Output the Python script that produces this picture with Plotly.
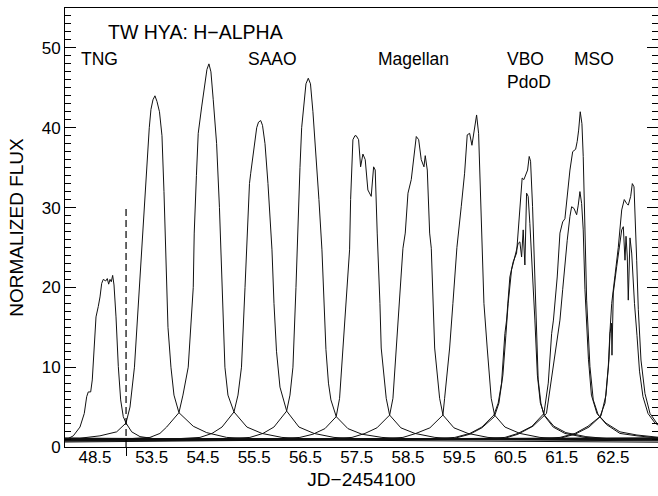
import plotly.graph_objects as go

# ---------------- data ----------------
tick_labels = ["48.5", "53.5", "54.5", "55.5", "56.5", "57.5", "58.5", "59.5", "60.5", "61.5", "62.5"]
# position of each night on the (compressed) plotted axis
tick_pos = [52.394, 53.5, 54.5, 55.5, 56.5, 57.5, 58.5, 59.5, 60.5, 61.5, 62.5]

break_x = 53.0        # dashed separator between TNG night and the rest
break_top = 30.0

# Each spectrum: offset (days) from its night position, and normalized flux
tng_dx = [-0.70, -0.552, -0.423, -0.293, -0.209, -0.162, -0.131, -0.084, -0.053, -0.020, 0.020, 0.064, 0.098,
          0.131, 0.162, 0.209, 0.240, 0.267, 0.293, 0.318, 0.345, 0.371, 0.410, 0.455, 0.501, 0.552, 0.605,
          0.716, 0.878, 1.203, 11.0]
tng_flux = [0.7, 0.96, 1.4, 2.5, 4.2, 6.3, 6.9, 6.9, 8.4, 12.2, 16.3, 17.6, 18.8, 20.5, 21.0, 20.8, 21.1, 20.4,
            21.0, 20.7, 21.5, 20.3, 16.3, 10.1, 5.9, 3.8, 3.0, 1.9, 1.3, 1.0, 0.6]

n535_dx = [-11, -1.399, -1.009, -0.683, -0.501, -0.423, -0.336, -0.238, -0.189, -0.140, -0.082, -0.047, -0.014,
           0.025, 0.064, 0.103, 0.152, 0.201, 0.240, 0.279, 0.318, 0.376, 0.435, 0.532, 0.811, 1.073, 1.463, 2.11, 11]
n535_flux = [1.25, 1.1, 1.4, 1.9, 3.0, 5.0, 10, 20, 25, 30, 37, 40, 42.3, 43.5, 44.0, 43.3, 42.0, 39.0, 32.0, 22.0,
             15.0, 10.0, 6.5, 4.3, 2.6, 1.8, 1.2, 1.0, 0.9]

n545_dx = [-11, -1.541, -1.034, -0.839, -0.708, -0.468, -0.390, -0.287, -0.189, -0.170, -0.127, -0.092, -0.025,
           0.039, 0.078, 0.117, 0.156, 0.201, 0.267, 0.322, 0.371, 0.429, 0.488, 0.605, 0.858, 1.151, 1.541, 2.087, 11]
n545_flux = [0.6, 1.0, 1.2, 1.7, 2.5, 4.3, 6.5, 10, 20, 26.8, 34, 39.3, 42.6, 45.5, 47.3, 48.0, 47.0, 43.5, 38,
             30, 20, 10, 6.5, 4.4, 2.5, 1.7, 1.2, 1.0, 1.2]

n555_dx = [-11, -1.6, -1.057, -0.823, -0.628, -0.394, -0.316, -0.248, -0.179, -0.135, -0.092, -0.068, -0.023,
           0.049, 0.084, 0.127, 0.162, 0.211, 0.269, 0.347, 0.386, 0.435, 0.503, 0.634, 0.874, 1.167, 1.557, 2.064, 11]
n555_flux = [1.1, 1.0, 1.2, 1.7, 2.5, 4.4, 6.5, 10, 20, 27, 33, 34.3, 36.5, 40, 40.7, 40.9, 40.3, 38, 33, 24.7,
             18, 12, 7.5, 4.5, 2.5, 1.7, 1.2, 1.0, 0.65]

n565_dx = [-11, -1.6, -1.083, -0.829, -0.615, -0.367, -0.302, -0.244, -0.185, -0.152, -0.107, -0.074, -0.029,
           0.010, 0.055, 0.098, 0.146, 0.205, 0.263, 0.322, 0.361, 0.400, 0.449, 0.497, 0.601, 0.829, 1.102,
           1.492, 2.039, 11]
n565_flux = [0.75, 1.0, 1.2, 1.7, 2.5, 4.5, 6.5, 10, 20, 27, 35, 40, 43.5, 45.5, 46.2, 45.5, 42, 37, 31, 24.7,
             18, 12.2, 8, 5.9, 3.8, 2.3, 1.6, 1.2, 1.0, 1.15]

n575_dx = [-11, -1.6, -1.108, -0.854, -0.620, -0.400, -0.334, -0.269, -0.211, -0.139, -0.119, -0.094, -0.074,
           -0.035, -0.010, 0.037, 0.076, 0.121, 0.166, 0.218, 0.283, 0.330, 0.361, 0.400, 0.414, 0.453, 0.478,
           0.576, 0.642, 0.862, 1.135, 1.526, 2.013, 11]
n575_flux = [1.2, 1.0, 1.2, 1.6, 2.3, 3.8, 6.1, 12.4, 18, 24.7, 31, 36, 38.5, 39.0, 39.0, 38.5, 35.1, 36.7, 36.0,
             32.2, 31.4, 35.1, 34.7, 26.8, 24.9, 18, 12.4, 6.1, 4.0, 2.4, 1.7, 1.2, 1.0, 0.7]

n585_dx = [-11, -1.6, -1.092, -0.839, -0.605, -0.357, -0.293, -0.228, -0.156, -0.098, -0.053, 0.000, 0.064,
           0.117, 0.162, 0.209, 0.259, 0.312, 0.337, 0.377, 0.423, 0.455, 0.488, 0.521, 0.618, 0.683, 0.897,
           1.171, 1.561, 2.029, 11]
n585_flux = [0.85, 1.0, 1.2, 1.7, 2.4, 4.0, 6.1, 12.4, 18, 24.9, 26.8, 31.8, 33.5, 36.8, 38.9, 38.5, 36.0, 35.1,
             36.5, 34.7, 26.8, 24.9, 18, 12.4, 6.1, 4.0, 2.4, 1.7, 1.2, 1.0, 1.25]

n595_dx = [-11, -1.6, -1.098, -0.845, -0.572, -0.318, -0.285, -0.240, -0.187, -0.123, -0.045, 0.039, 0.105,
           0.156, 0.203, 0.248, 0.287, 0.339, 0.378, 0.417, 0.443, 0.482, 0.546, 0.624, 0.690, 0.892, 1.184,
           1.575, 2.063, 11]
n595_flux = [1.0, 1.0, 1.2, 1.7, 2.4, 4.0, 6.1, 9, 12.4, 18, 25, 30.1, 34.3, 39.1, 39.3, 37.8, 39.3, 41.6, 39.3,
             31, 24.7, 18, 12.4, 6.1, 4.0, 2.5, 1.7, 1.2, 1.0, 0.55]

n605a_dx = [-11, -1.6, -1.085, -0.792, -0.558, -0.324, -0.240, -0.174, -0.109, -0.076, -0.012, 0.053, 0.119,
            0.170, 0.197, 0.228, 0.261, 0.300, 0.334, 0.365, 0.392, 0.431, 0.462, 0.496, 0.540, 0.593, 0.652,
            0.833, 1.061, 1.451, 1.939, 11]
n605a_flux = [0.65, 1.0, 1.2, 1.7, 2.5, 4.0, 5.5, 8.0, 14.2, 15.9, 21.3, 23.2, 24.3, 28.9, 32.2, 33.7, 33.5, 34.1,
              34.7, 36.4, 35.8, 30.1, 23.8, 15.9, 8.5, 5.5, 4.0, 2.5, 1.7, 1.2, 1.0, 0.95]

n605b_dx = [-11, -1.6, -1.085, -0.792, -0.558, -0.314, -0.226, -0.148, -0.090, -0.045, 0.021, 0.086, 0.150,
            0.183, 0.217, 0.248, 0.281, 0.314, 0.345, 0.378, 0.431, 0.476, 0.525, 0.583, 0.661, 0.847, 1.081,
            1.471, 1.978, 11]
n605b_flux = [1.15, 0.95, 1.1, 1.6, 2.4, 3.8, 5.5, 9, 14, 18, 22.2, 23.8, 25.5, 25.7, 23.8, 27.2, 22.8, 31.8,
              31.4, 28.0, 21.8, 15.9, 9, 5.5, 4.0, 2.6, 1.8, 1.3, 1.0, 0.8]

n615a_dx = [-11, -1.6, -1.108, -0.854, -0.581, -0.347, -0.263, -0.197, -0.162, -0.088, -0.035, 0.018, 0.062,
            0.107, 0.160, 0.213, 0.271, 0.302, 0.330, 0.361, 0.394, 0.419, 0.453, 0.486, 0.550, 0.615, 0.712,
            0.876, 1.135, 1.467, 1.916, 11]
n615a_flux = [0.9, 1.0, 1.2, 1.7, 2.6, 4.2, 8.0, 14.2, 15.9, 21.3, 26.8, 28.2, 28.6, 31.4, 34.7, 37.0, 37.3,
              38.3, 39.7, 42.0, 40.5, 36.4, 28.0, 18.4, 10.1, 5.9, 4.0, 2.8, 1.7, 1.4, 1.1, 1.1]

n615b_dx = [-11, -1.6, -1.108, -0.854, -0.562, -0.298, -0.211, -0.113, -0.035, 0.018, 0.062, 0.107, 0.160,
            0.193, 0.238, 0.291, 0.322, 0.355, 0.388, 0.419, 0.453, 0.486, 0.521, 0.579, 0.687, 0.862, 1.135,
            1.467, 1.916, 11]
n615b_flux = [0.55, 1.0, 1.1, 1.6, 2.6, 4.2, 8.0, 12.5, 15.9, 19.7, 23.0, 25.9, 28.9, 30.1, 29.9, 29.1, 30.3,
              32.0, 30.5, 27.2, 19.7, 15.9, 11, 6.5, 4.2, 3.0, 1.9, 1.5, 1.2, 0.9]

n625a_dx = [-11, -1.6, -1.034, -0.741, -0.488, -0.254, -0.156, -0.092, -0.059, -0.025, 0.039, 0.103, 0.170,
            0.220, 0.267, 0.298, 0.345, 0.377, 0.410, 0.429, 0.462, 0.494, 0.546, 0.624, 0.722, 0.853, 1.112, 11]
n625a_flux = [1.05, 1.0, 1.2, 1.7, 2.6, 3.8, 5.5, 10.0, 14.5, 18.0, 21.5, 25.0, 29.7, 31.0, 30.5, 30.3, 31.4,
              33.0, 32.6, 29.7, 23.4, 17.2, 10.9, 6.7, 4.2, 3.0, 2.0, 1.0]

n625b_dx = [-11, -1.6, -1.034, -0.741, -0.468, -0.234, -0.137, -0.078, -0.059, -0.029, -0.020, 0.000, 0.006,
            0.072, 0.137, 0.170, 0.201, 0.234, 0.254, 0.279, 0.298, 0.332, 0.365, 0.396, 0.419, 0.468, 0.517,
            0.585, 0.683, 0.819, 1.014, 11]
n625b_flux = [0.8, 0.95, 1.1, 1.6, 2.5, 3.9, 6.5, 11, 14.2, 15.5, 11.5, 16, 19.3, 22.6, 25.9, 27.2, 27.6, 23.4,
              26.4, 23.8, 18.4, 26.2, 24.3, 19.7, 18, 14, 9.5, 6.3, 4.2, 3.0, 2.2, 1.0]

# (night index, offsets, flux)
spectra = [
    (0, tng_dx, tng_flux),
    (1, n535_dx, n535_flux),
    (2, n545_dx, n545_flux),
    (3, n555_dx, n555_flux),
    (4, n565_dx, n565_flux),
    (5, n575_dx, n575_flux),
    (6, n585_dx, n585_flux),
    (7, n595_dx, n595_flux),
    (8, n605a_dx, n605a_flux),
    (8, n605b_dx, n605b_flux),
    (9, n615a_dx, n615a_flux),
    (9, n615b_dx, n615b_flux),
    (10, n625a_dx, n625a_flux),
    (10, n625b_dx, n625b_flux),
]

site_labels = ["TNG", "SAAO", "Magellan", "VBO", "PdoD", "MSO"]

# ---------------- figure ----------------
FONT = "Liberation Sans, Arial, Helvetica, sans-serif"
xrange_ = [51.809, 63.378]

fig = go.Figure()
for night, dx, flux in spectra:
    fig.add_trace(go.Scatter(
        x=[tick_pos[night] + d for d in dx], y=flux, mode="lines",
        line=dict(color="#111111", width=1), showlegend=False, hoverinfo="skip"))

# dashed separator, drawn on an overlay axis that also carries its single outside tick
fig.add_trace(go.Scatter(
    x=[break_x, break_x], y=[0, break_top], xaxis="x2", mode="lines",
    line=dict(color="black", width=1.2, dash="7px,4px"), showlegend=False, hoverinfo="skip"))

fig.update_layout(
    width=658, height=496,
    margin=dict(l=65, r=0, t=8, b=49),
    paper_bgcolor="white", plot_bgcolor="white",
    font=dict(family=FONT, color="black", size=17),
    xaxis=dict(
        range=xrange_, tickvals=tick_pos, ticktext=tick_labels, ticks="",
        showline=True, linecolor="black", linewidth=1, mirror=True, automargin=False,
        showgrid=False, zeroline=False, tickfont=dict(size=17), ticklabelstandoff=-5,
        title=dict(text="JD\u22122454100", font=dict(size=19), standoff=6),
    ),
    xaxis2=dict(
        range=xrange_, overlaying="x", anchor="y", side="bottom", automargin=False,
        tickvals=[break_x], ticks="outside", ticklen=8, tickcolor="black",
        showticklabels=False, showgrid=False, zeroline=False, showline=False,
    ),
    yaxis=dict(
        range=[0, 55], tickvals=[0, 10, 20, 30, 40, 50], ticks="inside", ticklen=11,
        tickcolor="black", showline=True, linecolor="black", linewidth=1, mirror="ticks",
        showgrid=False, zeroline=False, tickfont=dict(size=17), automargin=False,
        minor=dict(dtick=1, ticks="inside", ticklen=6, tickcolor="black", showgrid=False),
        title=dict(text="NORMALIZED FLUX", font=dict(size=19), standoff=13),
    ),
)

fig.add_annotation(x=52.608, y=51.94, xref="x", yref="y", text="TW HYA: H\u2212ALPHA", showarrow=False,
                   xanchor="left", yanchor="middle", font=dict(size=19.5, family=FONT))
label_x = [52.08, 55.34, 57.87, 60.39, 60.39, 61.70]
label_y = [48.6, 48.6, 48.6, 48.6, 45.68, 48.6]
for t, lx, ly in zip(site_labels, label_x, label_y):
    fig.add_annotation(x=lx, y=ly, xref="x", yref="y", text=t, showarrow=False,
                       xanchor="left", yanchor="middle", font=dict(size=17.5, family=FONT))

fig.write_html("out.html", config={"displayModeBar": False},
               post_script="document.body.style.margin='0';document.body.style.padding='0';")
